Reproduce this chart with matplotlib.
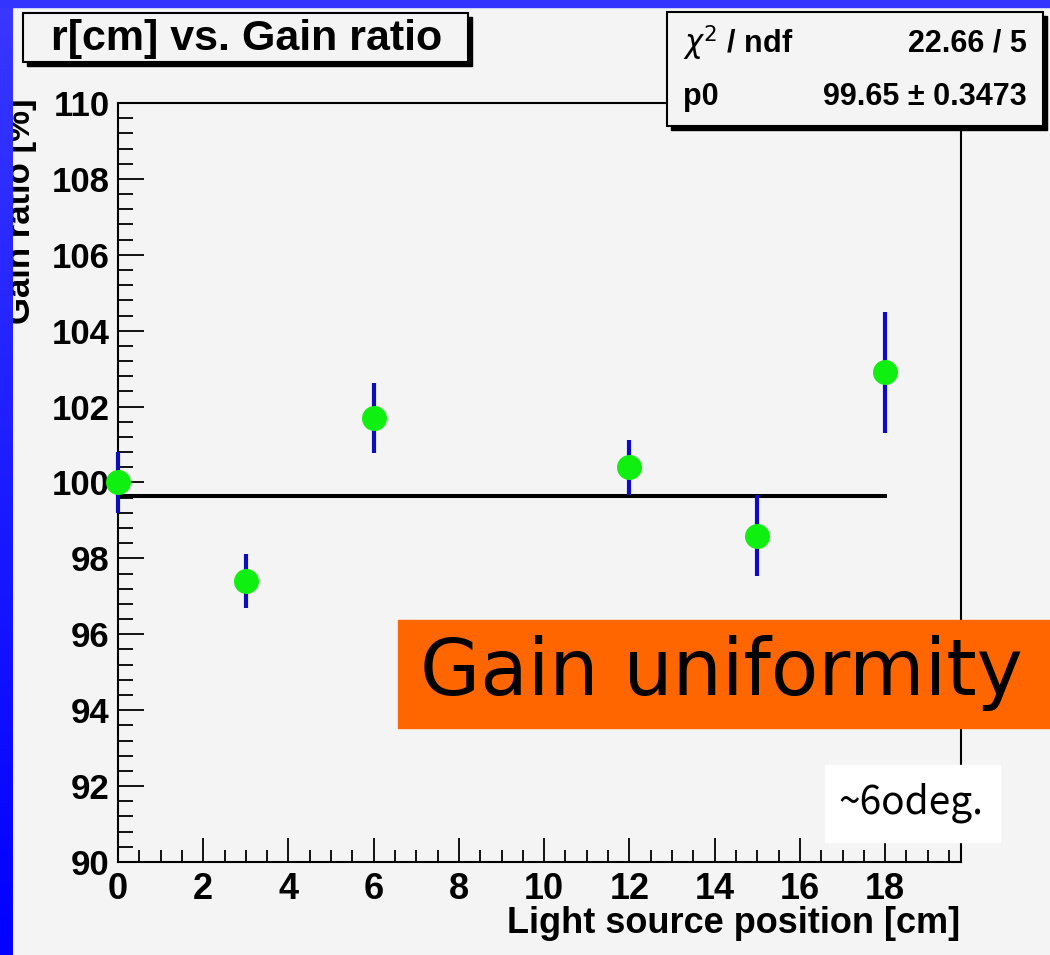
import numpy as np
import matplotlib
matplotlib.use("Agg")
import matplotlib.pyplot as plt
from matplotlib.patches import Rectangle
from matplotlib.ticker import MultipleLocator

# data
positions = [0, 3, 6, 12, 15, 18]          # light source position [cm]
gain = [100.0, 97.4, 101.7, 100.4, 98.6, 102.9]   # gain ratio [%]
gain_err = [0.8, 0.72, 0.93, 0.73, 1.07, 1.6]
fit_p0 = 99.65
fit_range = [0, 18]
x_ticks = [0, 2, 4, 6, 8, 10, 12, 14, 16, 18]
y_ticks = [90, 92, 94, 96, 98, 100, 102, 104, 106, 108, 110]

W, H = 1050, 955
bg = '#f4f4f4'
plt.rcParams['font.family'] = ['Liberation Sans', 'DejaVu Sans']

fig = plt.figure(figsize=(W / 100, H / 100), dpi=100, facecolor=bg)

# main frame, pixel box 118..961 x 103..862
ax = fig.add_axes([118 / W, 1 - 862 / H, (961 - 118) / W, (862 - 103) / H])
ax.set_facecolor(bg)
ax.set_xlim(0, 19.78)
ax.set_ylim(90, 110)

ax.plot(fit_range, [fit_p0, fit_p0], color='black', lw=2.9, zorder=2)
ax.errorbar(positions, gain, yerr=gain_err, fmt='none', ecolor='#0c0cc4',
            elinewidth=3, capsize=0, zorder=3, clip_on=False)
ax.plot(positions, gain, 'o', color='#10f010', ms=18, mec='none',
        zorder=4, clip_on=False)

ax.set_xticks(x_ticks)
ax.set_yticks(y_ticks)
ax.xaxis.set_minor_locator(MultipleLocator(0.5))
ax.yaxis.set_minor_locator(MultipleLocator(0.4))
ax.tick_params(axis='both', which='both', direction='in', top=False, right=False,
               width=1.3, color='black')
ax.tick_params(axis='x', which='major', length=17, labelsize=26, pad=7)
ax.tick_params(axis='x', which='minor', length=9)
ax.tick_params(axis='y', which='major', length=19, labelsize=25, pad=6)
ax.tick_params(axis='y', which='minor', length=11)
for lab in ax.get_xticklabels() + ax.get_yticklabels():
    lab.set_fontweight('bold')
for s in ax.spines.values():
    s.set_linewidth(1.5)

# overlay in pixel coords for boxes, labels and the blue border
ov = fig.add_axes([0, 0, 1, 1])
ov.set_xlim(0, W)
ov.set_ylim(H, 0)
ov.axis('off')
ov.patch.set_visible(False)

ov.text(960, 933, 'Light source position [cm]', ha='right', va='baseline',
        fontsize=26, fontweight='bold')
ov.text(21, 211, 'Gain ratio [%]', ha='center', va='center', rotation=90,
        fontsize=25, fontweight='bold')

def pave(x0, y0, x1, y1):
    ov.add_patch(Rectangle((x0 + 4, y0 + 4), x1 - x0, y1 - y0, color='black', zorder=5))
    ov.add_patch(Rectangle((x0, y0), x1 - x0, y1 - y0, facecolor=bg,
                           edgecolor='black', lw=1.5, zorder=6))

pave(23, 13, 468, 62)
ov.text(247, 39, 'r[cm] vs. Gain ratio', ha='center', va='center',
        fontsize=31, fontweight='bold', zorder=7)

pave(667, 12, 1043, 126)
ov.text(683, 43, r'$\chi^{2}$ / ndf', ha='left', va='center', fontsize=22,
        fontweight='bold', zorder=7)
ov.text(1027, 43, '22.66 / 5', ha='right', va='center', fontsize=22,
        fontweight='bold', zorder=7)
ov.text(683, 97, 'p0', ha='left', va='center', fontsize=22,
        fontweight='bold', zorder=7)
ov.text(1027, 97, '99.65 \u00b1 0.3473', ha='right', va='center', fontsize=22,
        fontweight='bold', zorder=7)

# slide annotations
ov.add_patch(Rectangle((398, 620), W - 398, 108, color='#ff6600', zorder=8))
ov.text(420, 673, 'Gain uniformity', ha='left', va='center', fontsize=56,
        family=['DejaVu Sans'], zorder=9)
ov.add_patch(Rectangle((825, 765), 175, 77, color='white', zorder=8))
ov.text(911, 803, '~6odeg.', ha='center', va='center', fontsize=28,
        family=['Noto Sans CJK JP', 'DejaVu Sans'], zorder=9)

# blue slide border
grad = np.linspace(0, 1, 256).reshape(-1, 1)
ov.imshow(np.dstack([0.22 * (1 - grad), 0.22 * (1 - grad), np.ones_like(grad)]),
          extent=[0, 13, H, 0], aspect='auto', zorder=10)
ov.add_patch(Rectangle((0, 0), W, 7, color='#3434ff', zorder=10))
ov.set_xlim(0, W)
ov.set_ylim(H, 0)

fig.savefig('out.png', dpi=100, facecolor=bg)
